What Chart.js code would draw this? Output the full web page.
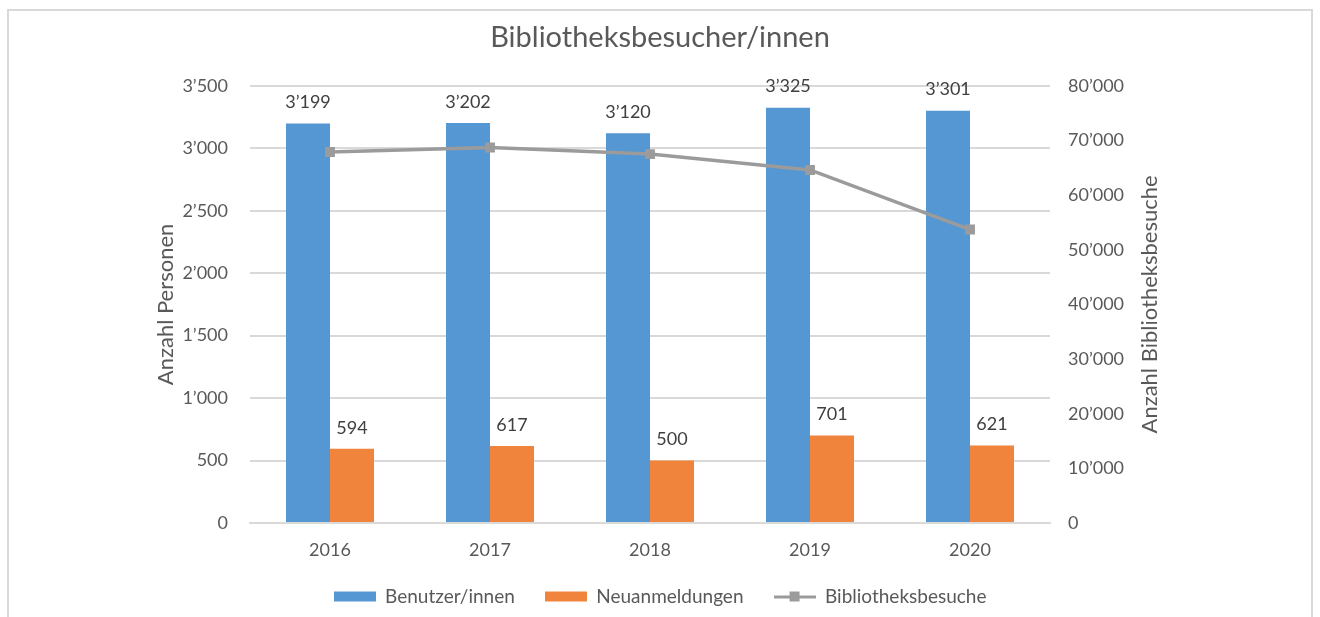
<!DOCTYPE html>
<html>
<head>
<meta charset="utf-8">
<title>Bibliotheksbesucher/innen</title>
<script src="https://cdn.jsdelivr.net/npm/chart.js@4/dist/chart.umd.min.js"></script>
<style>
  html, body { margin: 0; padding: 0; background: #fff; overflow: hidden; }
  #rahmen {
    position: absolute; left: 7px; top: 9px; width: 1302px; height: 700px;
    border: 2px solid #d9d9d9; pointer-events: none;
  }
  #grafik { position: absolute; left: 0; top: 0; }
</style>
</head>
<body>
<canvas id="grafik" width="1320" height="617"></canvas>
<div id="rahmen"></div>
<script>
// Daten aus der Grafik
const jahre = ['2016', '2017', '2018', '2019', '2020'];
const benutzer = [3199, 3202, 3120, 3325, 3301];
const neuanmeldungen = [594, 617, 500, 701, 621];
const besuche = [67900, 68700, 67500, 64600, 53700];

const schrift = 'Lato, "Open Sans", sans-serif';
const blau = '#5597d3';
const orange = '#f0843c';
const grau = '#9b9b9b';

// Zahl mit Apostroph als Tausendertrennzeichen
function formatZahl(v) {
    return String(v).replace(/\B(?=(\d{3})+(?!\d))/g, '\u2019');
}

// kleine Bildchen für die Legende (Rechteck bzw. Linie mit Quadrat)
function legendenSymbol(farbe, linie) {
    const c = document.createElement('canvas');
    c.width = 42; c.height = 12;
    const g = c.getContext('2d');
    g.fillStyle = farbe;
    if (linie) {
        g.fillRect(0, 5, 42, 3);
        g.fillRect(16, 1, 10, 10);
    } else {
        g.fillRect(0, 1, 42, 10);
    }
    return c;
}
const symbole = [legendenSymbol(blau, false), legendenSymbol(orange, false), legendenSymbol(grau, true)];

// Werte über den Balken
const balkenWerte = {
    id: 'balkenWerte',
    afterDatasetsDraw(chart) {
        const ctx = chart.ctx;
        ctx.save();
        ctx.font = '18px ' + schrift;
        ctx.fillStyle = '#404040';
        ctx.textAlign = 'center';
        ctx.textBaseline = 'middle';
        chart.data.datasets.forEach((ds, i) => {
            if (ds.type !== 'bar') return;
            chart.getDatasetMeta(i).data.forEach((el, j) => {
                ctx.fillText(formatZahl(ds.data[j]), el.x, el.y - 21);
            });
        });
        ctx.restore();
    }
};

// Titel der rechten Achse (von unten nach oben gelesen)
const rechterTitel = {
    id: 'rechterTitel',
    afterDraw(chart) {
        const ctx = chart.ctx;
        const a = chart.chartArea;
        ctx.save();
        ctx.translate(1150, (a.top + a.bottom) / 2);
        ctx.rotate(-Math.PI / 2);
        ctx.font = '22px ' + schrift;
        ctx.fillStyle = '#595959';
        ctx.textAlign = 'center';
        ctx.textBaseline = 'middle';
        ctx.fillText('Anzahl Bibliotheksbesuche', 0, 0);
        ctx.restore();
    }
};

const ctx = document.getElementById('grafik').getContext('2d');
new Chart(ctx, {
    data: {
        labels: jahre,
        datasets: [{
            type: 'bar',
            label: 'Benutzer/innen',
            data: benutzer,
            backgroundColor: blau,
            yAxisID: 'y',
            order: 1,
            categoryPercentage: 0.55,
            barPercentage: 1.0
        }, {
            type: 'bar',
            label: 'Neuanmeldungen',
            data: neuanmeldungen,
            backgroundColor: orange,
            yAxisID: 'y',
            order: 1,
            categoryPercentage: 0.55,
            barPercentage: 1.0
        }, {
            type: 'line',
            label: 'Bibliotheksbesuche',
            data: besuche,
            borderColor: grau,
            backgroundColor: grau,
            borderWidth: 3.5,
            pointStyle: 'rect',
            pointRadius: 7,
            pointBorderWidth: 0,
            yAxisID: 'y1',
            order: 0,
            tension: 0
        }]
    },
    options: {
        responsive: false,
        animation: false,
        layout: { padding: { top: 10, bottom: 1, left: 0, right: 0 } },
        plugins: {
            tooltip: { enabled: false },
            title: {
                display: true,
                text: 'Bibliotheksbesucher/innen',
                color: '#595959',
                font: { family: schrift, size: 29, weight: 'normal' },
                padding: { top: 10, bottom: 31 }
            },
            legend: {
                position: 'bottom',
                labels: {
                    usePointStyle: true,
                    pointStyleWidth: 42,
                    boxHeight: 12,
                    padding: 30,
                    color: '#595959',
                    font: { family: schrift, size: 19 },
                    generateLabels(chart) {
                        const items = Chart.defaults.plugins.legend.labels.generateLabels(chart);
                        items.sort((a, b) => a.datasetIndex - b.datasetIndex);
                        items.forEach(it => { it.pointStyle = symbole[it.datasetIndex]; });
                        return items;
                    }
                }
            }
        },
        scales: {
            x: {
                grid: { display: false, drawTicks: false },
                border: { color: '#d9d9d9', width: 2 },
                ticks: { color: '#595959', font: { family: schrift, size: 18 }, padding: 16 },
                afterFit(scale) { scale.height = 34; }
            },
            y: {
                position: 'left',
                min: 0,
                max: 3500,
                ticks: {
                    stepSize: 500,
                    color: '#595959',
                    padding: 22,
                    font: { family: schrift, size: 18 },
                    callback: v => formatZahl(v)
                },
                grid: { color: '#d9d9d9', lineWidth: 2, drawTicks: false },
                border: { display: false },
                title: {
                    display: true,
                    text: 'Anzahl Personen',
                    color: '#595959',
                    font: { family: schrift, size: 22 },
                    padding: { top: 153, bottom: 0 }
                },
                afterFit(scale) { scale.width = 250; }
            },
            y1: {
                position: 'right',
                min: 0,
                max: 80000,
                ticks: {
                    stepSize: 10000,
                    color: '#595959',
                    padding: 18,
                    font: { family: schrift, size: 18 },
                    callback: v => formatZahl(v)
                },
                grid: { drawOnChartArea: false, drawTicks: false },
                border: { display: false },
                afterFit(scale) { scale.width = 270; }
            }
        }
    },
    plugins: [balkenWerte, rechterTitel]
});
</script>
</body>
</html>
